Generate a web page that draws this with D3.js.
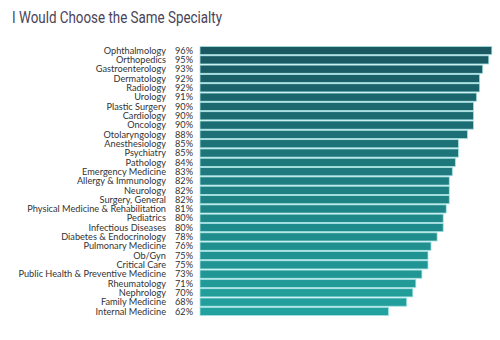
<!DOCTYPE html>
<html><head><meta charset="utf-8">
<script src="https://cdn.jsdelivr.net/npm/d3@7"></script>
<style>body{margin:0;background:#fff}</style>
</head><body>
<svg id="c" width="500" height="340"></svg>
<script>
const categories = ["Ophthalmology","Orthopedics","Gastroenterology","Dermatology","Radiology","Urology","Plastic Surgery","Cardiology","Oncology","Otolaryngology","Anesthesiology","Psychiatry","Pathology","Emergency Medicine","Allergy & Immunology","Neurology","Surgery, General","Physical Medicine & Rehabilitation","Pediatrics","Infectious Diseases","Diabetes & Endocrinology","Pulmonary Medicine","Ob/Gyn","Critical Care","Public Health & Preventive Medicine","Rheumatology","Nephrology","Family Medicine","Internal Medicine"];
const values = [96,95,93,92,92,91,90,90,90,88,85,85,84,83,82,82,82,81,80,80,78,76,75,75,73,71,70,68,62];
const title = "I Would Choose the Same Specialty";

const svg = d3.select("#c");
svg.append("text").attr("x",12).attr("y",23).text(title)
  .attr("font-family","Roboto").attr("font-size",16).attr("fill","#4a4458")
  .attr("textLength",210).attr("lengthAdjust","spacingAndGlyphs");

const y = d3.scaleBand().domain(categories).range([46,316]).paddingInner(0.12).paddingOuter(0.05);
const x = d3.scaleLinear().domain([0,100]).range([200,504]);
const color = d3.scaleLinear().domain([0,categories.length-1]).range(["#1a5862","#22a29e"]);

const data = categories.map((c,i)=>({c,v:values[i],i}));
svg.selectAll("rect.bar").data(data).join("rect").attr("class","bar")
  .attr("x",x(0)).attr("y",d=>y(d.c)).attr("width",d=>x(d.v)-x(0)).attr("height",y.bandwidth())
  .attr("fill",d=>color(d.i)).attr("stroke","#a6e3e4").attr("stroke-width",0.8);

const font = "Lato, 'Open Sans', sans-serif";
svg.selectAll("text.lab").data(data).join("text").attr("class","lab")
  .attr("x",166).attr("y",d=>y(d.c)+y.bandwidth()/2).attr("dy","0.35em")
  .attr("text-anchor","end").attr("font-family",font).attr("font-size",9.2).attr("fill","#333")
  .text(d=>d.c);
svg.selectAll("text.pct").data(data).join("text").attr("class","pct")
  .attr("x",184).attr("y",d=>y(d.c)+y.bandwidth()/2).attr("dy","0.35em")
  .attr("text-anchor","middle").attr("font-family",font).attr("font-size",9.2).attr("fill","#333")
  .text(d=>d.v+"%");
</script>
</body></html>
